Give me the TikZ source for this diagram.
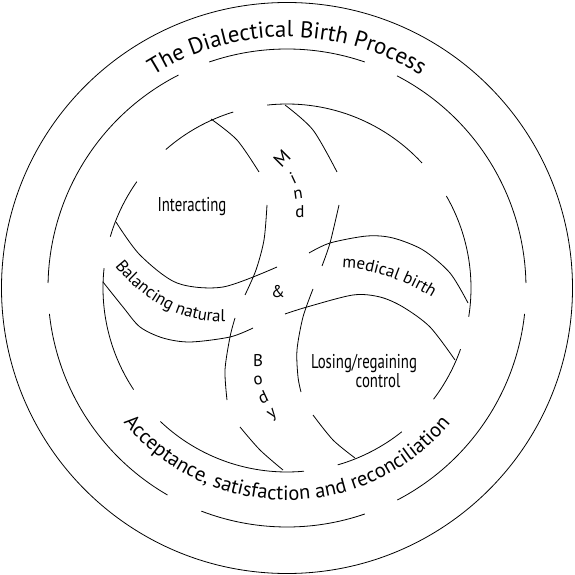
\documentclass[tikz,border=0pt]{standalone}
\usepackage{fontspec}
\setmainfont{PT Sans}
\newfontfamily\narrowfont[FakeStretch=0.74]{PT Sans}
\usetikzlibrary{decorations.text}
\newcommand\ringfont{\fontsize{23}{25}\selectfont}
\newcommand\lowringfont{\fontsize{20.5}{22}\selectfont}
\newcommand\bandfont{\fontsize{17}{19}\selectfont}
\tikzset{
  curve/.style={line width=.8pt},
  region/.style={font=\narrowfont\fontsize{20}{22}\selectfont, inner sep=0pt},
  letter/.style={font=\fontsize{17}{18}\selectfont, inner sep=0pt}
}
\begin{document}
\begin{tikzpicture}[x=1pt,y=1pt]
\useasboundingbox (-287,-287) rectangle (287,288);
% outer circle and the broken rings
\draw[curve] (0,0) circle (285.5);
\foreach \a/\b in {1.2/62.6, 71/109, 117/178.8, 186.2/240, 249/289, 297.5/353.8}
  \draw[curve] (\a:239) arc (\a:\b:239);
\foreach \a/\b in {107/131.2, 42.8/96.2, -9/30, -37.2/-19.4, -74/-51.4,
                   226.5/275.3, 173.8/213.5, 144.7/163.8}
  \draw[curve] (\a:184) arc (\a:\b:184);
% mind channel
\draw[curve] plot[smooth] coordinates {(-76,169) (-50,148) (-28,116)};
\draw[curve] plot[smooth] coordinates {(-20,83) (-23,48) (-31,18) (-42,-7)};
\draw[curve] plot[smooth] coordinates {(-2,183) (26,158) (50,116)};
\draw[curve] plot[smooth] coordinates {(52,83) (43,45) (35,22)};
% body channel
\draw[curve] plot[smooth] coordinates {(-52,-30) (-57,-49) (-62,-82) (-60,-112)};
\draw[curve] plot[smooth] coordinates {(-47,-139) (-27,-162) (-4,-182)};
\draw[curve] plot[smooth] coordinates {(26,-1) (16,-29) (10,-62) (11,-89) (14,-104)};
\draw[curve] plot[smooth] coordinates {(26,-127) (46,-152) (68,-170)};
% balancing / medical channel
\draw[curve] plot[smooth] coordinates {(-171,66) (-147,33) (-110,5) (-64,1) (-10,21)};
\draw[curve] plot[smooth] coordinates {(-184,6) (-164,-19) (-147,-39) (-124,-50) (-97,-54) (-57,-49) (-34,-40)};
\draw[curve] plot[smooth] coordinates {(22,35) (43,45) (80,52) (106,50) (136,38) (163,15) (181,-15)};
\draw[curve] plot[smooth] coordinates {(-2,-26) (20,-19) (66,-7) (93,-9) (116,-19) (143,-39) (168,-72)};
% texts on the rings
\path[decorate, decoration={text along path, text align=center,
  text={|\ringfont|The Dialectical Birth Process}}] (135:251) arc (135:45:251);
\path[decorate, decoration={text along path, text align=center,
  text={|\lowringfont|Acceptance, satisfaction and reconciliation}}] (210:212) arc (210:330:212);
\path[decorate, decoration={text along path,
  text={|\bandfont|Balancing natural}}] (-172,22) .. controls (-148,-8) and (-110,-35) .. (-60,-34);
\path[decorate, decoration={text along path,
  text={|\bandfont|medical birth}}] (55,20) .. controls (85,20) and (125,5) .. (155,-16);
% labels
\node[region] (interacting) at (-95,81) {Interacting};
\node[region] (losing) at (77,-76) {Losing/regaining};
\node[region] (control) at (91,-93) {control};
\node[letter, font=\fontsize{19}{20}\selectfont, rotate=45] (m1) at (-5,130) {M};
\node[letter, rotate=25] (m2) at (6,110) {i};
\node[letter, rotate=8] (m3) at (11,93) {n};
\node[letter] (m4) at (13,76) {d};
\node[letter] (amp) at (-9,-4) {\&};
\node[letter] (b1) at (-29,-73) {B};
\node[letter, rotate=10] (b2) at (-29,-93) {o};
\node[letter, rotate=25] (b3) at (-24,-109) {d};
\node[letter, rotate=35] (b4) at (-14,-127) {y};
\end{tikzpicture}
\end{document}
